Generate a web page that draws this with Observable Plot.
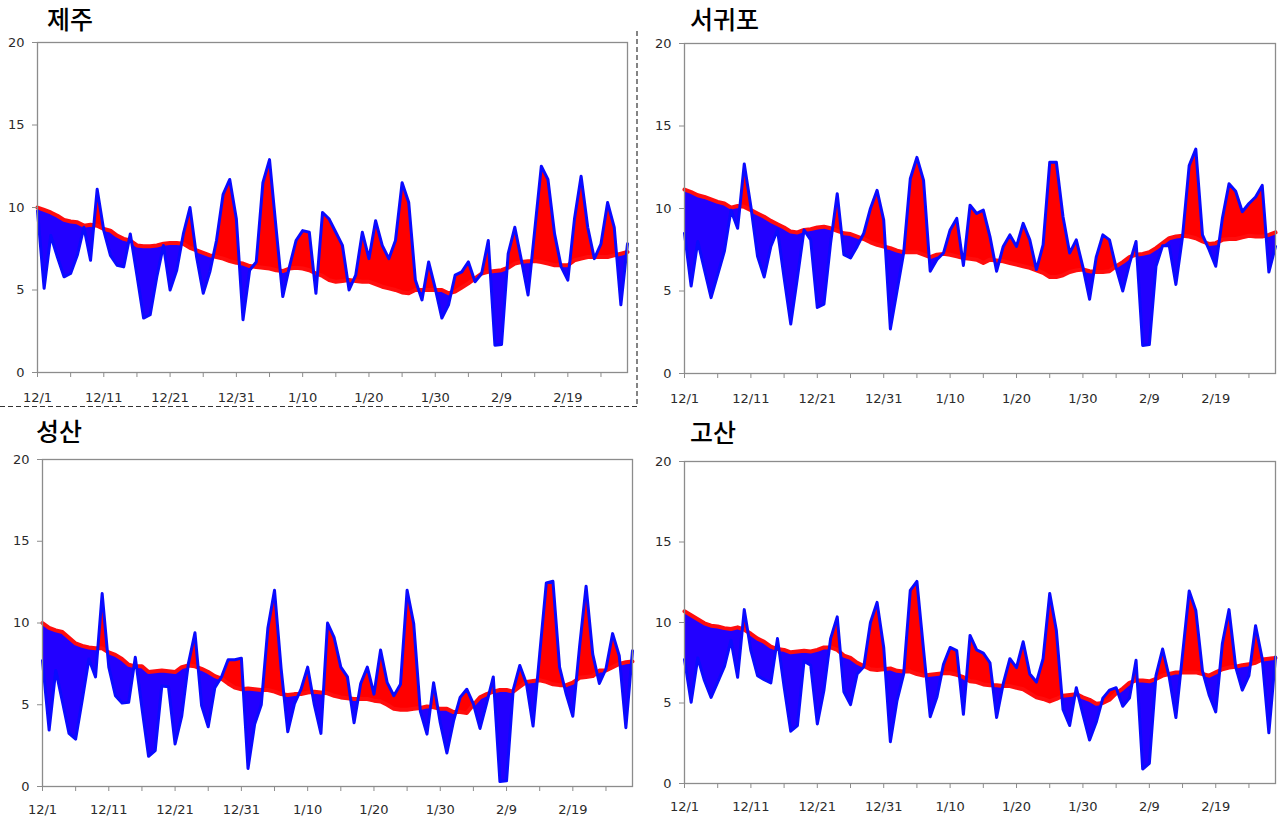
<!DOCTYPE html>
<html>
<head>
<meta charset="utf-8">
<script src="https://cdn.jsdelivr.net/npm/d3@7"></script>
<script src="https://cdn.jsdelivr.net/npm/@observablehq/plot@0.6"></script>
<style>
  html, body { margin: 0; padding: 0; background: #fff; }
  body { width: 1280px; height: 820px; position: relative; overflow: hidden; font-family: "DejaVu Sans", sans-serif; }
  .panel { position: absolute; }
  .title { position: absolute; font-family: "Noto Sans CJK KR", sans-serif; font-size: 25px; font-weight: 500; color: #000; line-height: 1; white-space: nowrap; }
  svg.sel { position: absolute; left: 0; top: 0; pointer-events: none; }
</style>
</head>
<body>
<script>
// ---- categories / tick labels ----
const xTickLabels = ["12/1", "12/11", "12/21", "12/31", "1/10", "1/20", "1/30", "2/9", "2/19"];
const stationNames = ["제주", "서귀포", "성산", "고산"];

// ---- daily mean temperature (12/1 .. 2/28), actual and normal ----
const jejuActual = [9.8,5.1,8.3,7.0,5.8,6.0,7.1,8.8,6.8,11.1, 8.6,7.1,6.5,6.4,8.4,5.9,3.3,3.5,5.8,7.7,
  5.0,6.2,8.4,10.0,7.0,4.8,6.1,8.0,10.8,11.7, 9.3,3.2,6.2,6.7,11.5,12.9,8.7,4.6,6.4,8.0,
  8.6,8.5,4.8,9.7,9.3,8.5,7.7,5.0,5.9,8.5, 6.9,9.2,7.7,6.9,8.0,11.5,10.3,5.6,4.4,6.7,
  5.1,3.3,4.1,5.9,6.1,6.7,5.5,6.0,8.0,1.65, 1.7,7.2,8.8,6.8,4.7,8.6,12.5,11.7,8.4,6.4,
  5.6,9.3,11.9,8.8,6.9,7.8,10.3,8.8,4.1,7.8];
const jejuNormal = [10.0,9.85,9.7,9.5,9.25,9.15,9.1,8.9,8.95,8.9, 8.7,8.6,8.3,8.1,8.0,7.7,7.65,7.65,7.7,7.8,
  7.85,7.85,7.8,7.55,7.4,7.25,7.1,7.0,6.9,6.75, 6.65,6.6,6.45,6.4,6.35,6.3,6.2,6.15,6.3,6.35,
  6.3,6.2,6.0,5.85,5.6,5.5,5.55,5.6,5.55,5.5, 5.5,5.35,5.2,5.1,5.0,4.85,4.8,5.0,5.0,5.0,
  5.0,5.0,4.8,4.9,5.15,5.4,5.7,6.0,6.1,6.15, 6.2,6.35,6.6,6.7,6.75,6.75,6.7,6.6,6.5,6.5,
  6.5,6.8,6.9,7.0,7.0,7.0,7.0,7.1,7.2,7.3];

const seogwipoActual = [8.5,5.3,8.0,6.3,4.6,6.0,7.4,9.9,8.8,12.7, 10.1,7.1,5.85,7.7,8.7,5.8,3.0,5.8,8.7,8.1,
  4.0,4.2,7.9,10.9,7.2,7.0,7.7,8.5,10.0,11.1, 9.3,2.7,5.0,7.3,11.8,13.1,11.7,6.2,6.9,7.3,
  8.7,9.4,6.55,10.2,9.7,9.9,8.3,6.2,7.7,8.4, 7.7,9.1,8.1,6.3,7.8,12.8,12.8,9.5,7.3,8.1,
  6.45,4.5,7.05,8.4,8.1,6.4,5.0,6.65,8.0,1.7, 1.75,6.5,7.75,7.75,5.4,8.3,12.6,13.6,8.4,7.5,
  6.5,9.4,11.5,11.05,9.8,10.3,10.7,11.4,6.15,7.7];
const seogwipoNormal = [11.15,11.0,10.8,10.7,10.55,10.4,10.3,10.05,10.15,10.1, 9.9,9.7,9.5,9.25,9.05,8.85,8.6,8.55,8.7,8.75,
  8.85,8.9,8.8,8.65,8.5,8.45,8.3,8.15,7.95,7.8, 7.7,7.6,7.45,7.35,7.35,7.35,7.2,7.05,7.2,7.25,
  7.2,7.1,7.0,6.95,6.9,6.7,6.9,6.85,6.8,6.7, 6.6,6.5,6.4,6.25,6.1,5.85,5.85,5.95,6.15,6.25,
  6.3,6.2,6.15,6.15,6.2,6.5,6.75,7.05,7.2,7.25, 7.35,7.6,7.9,8.2,8.3,8.35,8.3,8.2,8.0,7.85,
  7.9,8.1,8.15,8.15,8.25,8.35,8.3,8.3,8.4,8.55];

const seongsanActual = [7.7,3.45,7.1,5.2,3.25,2.9,5.3,7.8,6.7,11.8, 7.3,5.55,5.1,5.15,7.9,4.8,1.85,2.2,6.15,6.1,
  2.6,4.3,7.5,9.4,4.95,3.65,6.05,6.7,7.75,7.75, 7.85,1.1,3.8,5.0,9.7,12.0,7.2,3.35,5.05,5.95,
  7.3,5.0,3.25,10.0,9.1,7.3,6.7,3.9,6.3,7.3, 5.65,8.35,6.35,5.55,6.25,12.0,9.95,4.6,3.2,6.35,
  3.9,2.05,4.0,5.45,5.95,5.05,3.55,5.1,6.7,0.3, 0.35,5.9,7.4,6.3,3.7,8.1,12.45,12.55,7.3,5.65,
  4.3,8.5,12.25,8.1,6.3,7.2,9.35,8.0,3.6,8.3];
const seongsanNormal = [10.0,9.7,9.55,9.45,9.1,8.75,8.6,8.5,8.45,8.45, 8.2,8.05,7.8,7.45,7.35,7.35,7.0,7.05,7.1,7.05,
  7.0,7.3,7.4,7.35,7.2,7.0,6.75,6.6,6.3,6.05, 5.95,6.0,5.95,5.9,5.9,5.8,5.65,5.6,5.65,5.65,
  5.75,5.8,5.75,5.7,5.55,5.45,5.4,5.35,5.35,5.35, 5.25,5.2,5.0,4.75,4.7,4.7,4.75,4.8,4.9,4.85,
  4.75,4.75,4.55,4.55,4.5,5.0,5.45,5.65,5.8,5.9, 5.9,5.8,6.1,6.4,6.45,6.5,6.4,6.25,6.2,6.2,
  6.35,6.65,6.7,6.75,7.1,7.1,7.3,7.5,7.6,7.65];

const gosanActual = [7.7,5.05,7.8,6.4,5.35,6.3,7.25,8.9,6.6,10.8, 8.25,6.7,6.45,6.25,9.0,6.0,3.25,3.6,7.6,7.35,
  3.7,5.8,9.0,10.35,5.7,4.9,6.8,7.25,10.0,11.25, 8.45,2.6,5.15,6.8,12.0,12.55,8.3,4.15,5.35,7.4,
  8.45,8.25,4.3,9.2,8.3,8.1,7.5,4.1,6.2,7.75, 7.2,8.8,6.8,6.3,7.75,11.8,9.5,4.6,3.6,5.95,
  4.3,2.7,3.8,5.3,5.8,5.95,4.8,5.3,7.65,0.9, 1.25,6.7,8.35,6.6,4.1,8.0,11.95,10.75,7.0,5.5,
  4.45,8.7,10.8,7.25,5.8,6.7,9.8,7.75,3.15,7.85];
const gosanNormal = [10.7,10.45,10.2,9.95,9.8,9.75,9.65,9.6,9.7,9.55, 9.3,9.0,8.8,8.5,8.35,8.3,8.15,8.2,8.25,8.2,
  8.3,8.45,8.45,8.3,7.95,7.8,7.5,7.3,7.1,7.05, 7.1,7.15,7.0,6.95,6.95,6.8,6.7,6.75,6.8,6.85,
  6.85,6.75,6.6,6.35,6.3,6.15,6.1,6.1,6.05,6.05, 5.95,5.85,5.6,5.35,5.25,5.1,5.25,5.45,5.5,5.55,
  5.35,5.2,4.95,5.0,5.2,5.6,5.9,6.25,6.4,6.4, 6.35,6.5,6.7,6.8,6.9,6.9,6.9,6.9,6.8,6.7,
  6.9,7.1,7.2,7.25,7.35,7.4,7.5,7.7,7.75,7.8];

const yTicks = [0, 5, 10, 15, 20];

// ---- style ----
const RED_FILL = "#ff0000";
const BLUE_FILL = "#2200ff";
const RED_LINE = "#ff0d0d";
const BLUE_LINE = "#0a0aff";
const AXIS_GRAY = "#8c8c8c";
const TEXT = "#2b2b2b";

const layouts = [
  {left: 0,   top: 30,  ml: 37, mr: 13, mt: 12, mb: 38, pad: 20, tl: 47,  tt: 6},
  {left: 640, top: 30,  ml: 44, mr: 5,  mt: 13, mb: 37, pad: 20, tl: 690, tt: 6},
  {left: 0,   top: 440, ml: 42, mr: 8,  mt: 19, mb: 34, pad: 18, tl: 36,  tt: 418},
  {left: 640, top: 440, ml: 44, mr: 5,  mt: 21, mb: 37, pad: 18, tl: 690, tt: 419}
];
const series = [
  [jejuActual, jejuNormal],
  [seogwipoActual, seogwipoNormal],
  [seongsanActual, seongsanNormal],
  [gosanActual, gosanNormal]
];

const nDays = jejuActual.length;
const tickDays = d3.range(0, nDays, 5);
const labelEvery = Math.round((nDays - 1) / (xTickLabels.length - 1)) >= 10 ? 10 : 10;

function makePanel(actual, normal, L) {
  const data = actual.map((a, i) => ({d: i, actual: a, normal: normal[i]}));
  const marks = [];
  if (typeof Plot.differenceY === "function") {
    marks.push(Plot.differenceY(data, {
      x: "d", y1: "normal", y2: "actual",
      positiveFill: RED_FILL, negativeFill: BLUE_FILL,
      fillOpacity: 1, stroke: "none"
    }));
  } else {
    marks.push(Plot.areaY(data, {x: "d", y1: "normal", y2: d => Math.max(d.actual, d.normal), fill: RED_FILL}));
    marks.push(Plot.areaY(data, {x: "d", y1: "normal", y2: d => Math.min(d.actual, d.normal), fill: BLUE_FILL}));
  }
  marks.push(Plot.lineY(data, {x: "d", y: "normal", stroke: RED_LINE, strokeWidth: 4, strokeLinejoin: "round"}));
  marks.push(Plot.lineY(data, {x: "d", y: "actual", stroke: BLUE_LINE, strokeWidth: 3, strokeLinejoin: "round"}));
  marks.push(Plot.frame({stroke: AXIS_GRAY, strokeWidth: 1.3}));
  marks.push(Plot.axisY({ticks: yTicks, tickSize: 5, tickPadding: 8, stroke: AXIS_GRAY, fill: TEXT, label: null}));
  marks.push(Plot.axisX({ticks: tickDays, tickSize: 5, text: null, stroke: AXIS_GRAY, label: null}));
  marks.push(Plot.axisX({
    ticks: xTickLabels.map((_, k) => k * 10), tickSize: 0, tickPadding: L.pad,
    tickFormat: v => xTickLabels[v / 10], fill: TEXT, label: null
  }));
  return Plot.plot({
    width: 640, height: 380,
    marginLeft: L.ml, marginRight: L.mr, marginTop: L.mt, marginBottom: L.mb,
    x: {type: "linear", domain: [0, nDays - 1], axis: null},
    y: {domain: [0, 20], axis: null},
    style: {fontFamily: "DejaVu Sans, sans-serif", fontSize: "13px", background: "transparent", overflow: "visible"},
    marks
  });
}

series.forEach(([a, n], i) => {
  const L = layouts[i];
  const wrap = document.createElement("div");
  wrap.className = "panel";
  wrap.style.left = L.left + "px";
  wrap.style.top = L.top + "px";
  wrap.appendChild(makePanel(a, n, L));
  document.body.appendChild(wrap);
  const t = document.createElement("div");
  t.className = "title";
  t.style.left = L.tl + "px";
  t.style.top = L.tt + "px";
  t.textContent = stationNames[i];
  document.body.appendChild(t);
});

// selection outline (dashed) around the first chart, as in the source screenshot
const ns = "http://www.w3.org/2000/svg";
const sel = document.createElementNS(ns, "svg");
sel.setAttribute("class", "sel");
sel.setAttribute("width", 1280);
sel.setAttribute("height", 820);
[[637, 31, 637, 406.5], [0, 406.5, 637, 406.5]].forEach(([x1, y1, x2, y2]) => {
  const l = document.createElementNS(ns, "line");
  l.setAttribute("x1", x1); l.setAttribute("y1", y1);
  l.setAttribute("x2", x2); l.setAttribute("y2", y2);
  l.setAttribute("stroke", "#333");
  l.setAttribute("stroke-width", "1.2");
  l.setAttribute("stroke-dasharray", "5 3");
  sel.appendChild(l);
});
document.body.appendChild(sel);
</script>
</body>
</html>
